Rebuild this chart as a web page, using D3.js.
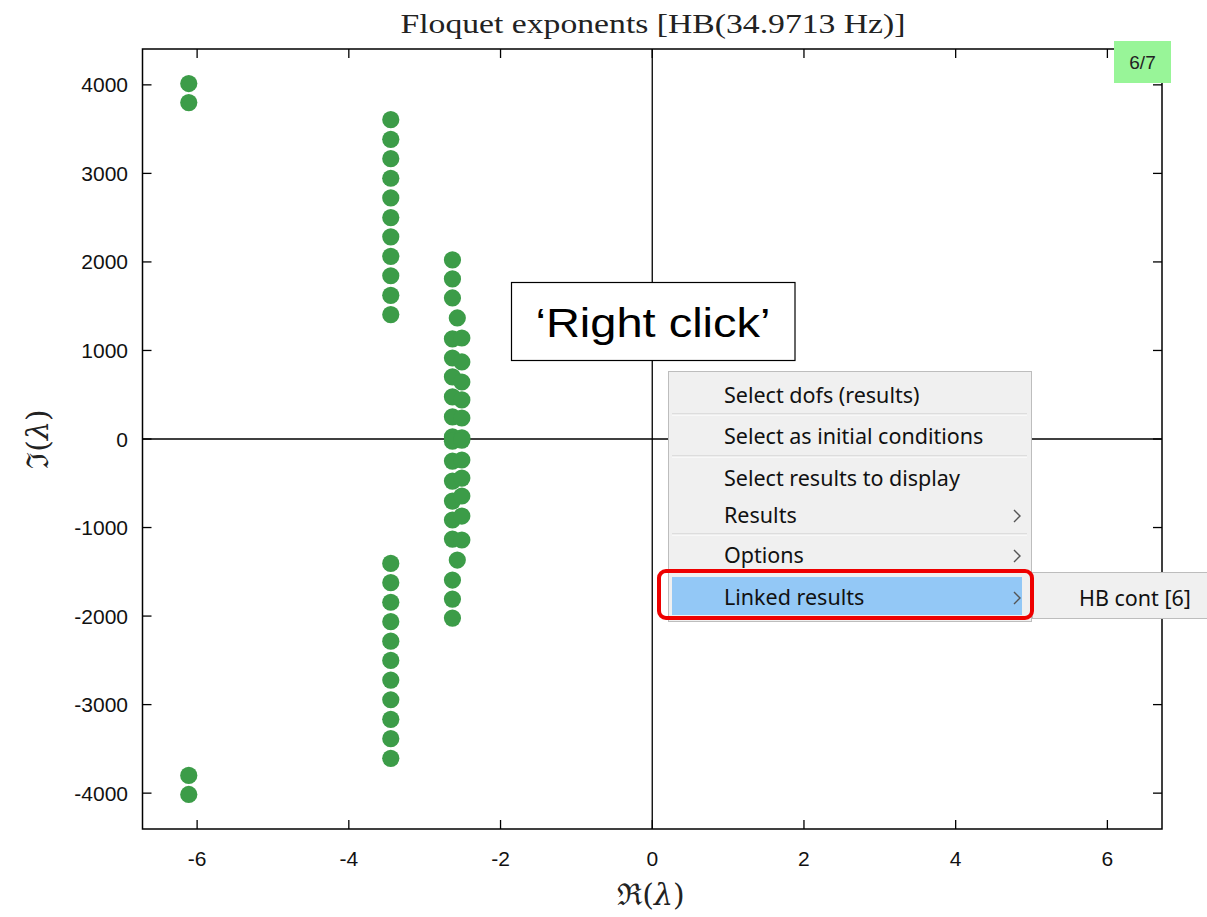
<!DOCTYPE html>
<html>
<head>
<meta charset="utf-8">
<script src="https://cdn.jsdelivr.net/npm/d3@7"></script>
<style>
  html, body { margin: 0; padding: 0; background: #ffffff; }
  svg { display: block; }
</style>
</head>
<body>
<svg id="chart" width="1207" height="917"></svg>
<script>
// Floquet exponents, grouped by real part; each group lists its imaginary parts.
const outerRe = -6.11;
const outerIm = [4015, 3800, -3800, -4015];

const midRe = -3.447;
const midIm = [3607, 3385, 3166, 2945, 2723, 2501, 2283, 2063, 1844, 1623, 1405,
               -1405, -1623, -1844, -2063, -2283, -2501, -2723, -2945, -3166, -3385, -3607];

const innerLeftRe = -2.634;
const innerLeftIm = [2023, 1808, 1593, 1130, 915, 701, 475, 249, 25,
                     -25, -249, -475, -701, -915, -1130, -1593, -1808, -2023];

const innerMidRe = -2.57;
const innerMidIm = [1367, -1367];

const innerRightRe = -2.51;
const innerRightIm = [1141, 870, 644, 441, 237, 12,
                      -12, -237, -441, -644, -870, -1141];

const xTicks = [-6, -4, -2, 0, 2, 4, 6];
const yTicks = [-4000, -3000, -2000, -1000, 0, 1000, 2000, 3000, 4000];

const titleText = "Floquet exponents [HB(34.9713 Hz)]";
const badgeText = "6/7";
const calloutText = "\u2018Right click\u2019";
const menuItems = ["Select dofs (results)", "Select as initial conditions",
                   "Select results to display", "Results", "Options", "Linked results"];
const menuArrows = [false, false, false, true, true, true];
const menuSeparators = [0, 1, 3];     // separator drawn after these items
const submenuItems = ["HB cont [6]"];

const points = [
  ...outerIm.map(v => [outerRe, v]),
  ...midIm.map(v => [midRe, v]),
  ...innerLeftIm.map(v => [innerLeftRe, v]),
  ...innerMidIm.map(v => [innerMidRe, v]),
  ...innerRightIm.map(v => [innerRightRe, v])
];

const svg = d3.select("#chart");
const L = 142.5, R = 1162, T = 49, B = 829;

const x = d3.scaleLinear().domain([-6.72, 6.72]).range([L, R]);
const y = d3.scaleLinear().domain([-4405, 4405]).range([B, T]);

const tickLen = 9;
const axisFont = "'Liberation Sans', Arial, sans-serif";

// ticks on all four sides, pointing inward
const ax = svg.append("g").attr("stroke", "#000").attr("stroke-width", 1.3);
xTicks.forEach(t => {
  ax.append("line").attr("x1", x(t)).attr("x2", x(t)).attr("y1", B).attr("y2", B - tickLen);
  ax.append("line").attr("x1", x(t)).attr("x2", x(t)).attr("y1", T).attr("y2", T + tickLen);
});
yTicks.forEach(t => {
  ax.append("line").attr("x1", L).attr("x2", L + tickLen).attr("y1", y(t)).attr("y2", y(t));
  ax.append("line").attr("x1", R).attr("x2", R - tickLen).attr("y1", y(t)).attr("y2", y(t));
});

// zero lines
ax.append("line").attr("x1", x(0)).attr("x2", x(0)).attr("y1", T).attr("y2", B);
ax.append("line").attr("x1", L).attr("x2", R).attr("y1", y(0)).attr("y2", y(0));

// frame
svg.append("rect").attr("x", L).attr("y", T).attr("width", R - L).attr("height", B - T)
  .attr("fill", "none").attr("stroke", "#000").attr("stroke-width", 1.5);

// tick labels
svg.append("g").selectAll("text").data(xTicks).join("text")
  .attr("x", d => x(d)).attr("y", 866).attr("text-anchor", "middle")
  .attr("font-family", axisFont).attr("font-size", 21).attr("fill", "#111")
  .text(d => d);
svg.append("g").selectAll("text").data(yTicks).join("text")
  .attr("x", 128).attr("y", d => y(d) + 7.5).attr("text-anchor", "end")
  .attr("font-family", axisFont).attr("font-size", 21).attr("fill", "#111")
  .text(d => d);

// points
svg.append("g").selectAll("circle").data(points).join("circle")
  .attr("cx", d => x(d[0])).attr("cy", d => y(d[1])).attr("r", 8.6)
  .attr("fill", "#3c9c48");

// title and axis labels
const serif = "'DejaVu Serif', 'Liberation Serif', serif";
svg.append("text").attr("x", 653).attr("y", 33).attr("text-anchor", "middle")
  .attr("font-family", "'Liberation Serif', serif").attr("font-size", 27).attr("fill", "#222")
  .attr("textLength", 505).attr("lengthAdjust", "spacingAndGlyphs")
  .text(titleText);

const xl = svg.append("text").attr("x", 651).attr("y", 905).attr("text-anchor", "middle")
  .attr("font-family", serif).attr("font-size", 30).attr("fill", "#222");
xl.append("tspan").text("\u211C(");
xl.append("tspan").attr("font-style", "italic").text("\u03BB");
xl.append("tspan").text(")");

const yl = svg.append("text").attr("transform", "translate(48,439) rotate(-90)")
  .attr("text-anchor", "middle")
  .attr("font-family", serif).attr("font-size", 30).attr("fill", "#222");
yl.append("tspan").text("\u2111(");
yl.append("tspan").attr("font-style", "italic").text("\u03BB");
yl.append("tspan").text(")");

// page badge
svg.append("rect").attr("x", 1114).attr("y", 41).attr("width", 57).attr("height", 42)
  .attr("fill", "#98f598");
svg.append("text").attr("x", 1142.5).attr("y", 69).attr("text-anchor", "middle")
  .attr("font-family", axisFont).attr("font-size", 19).attr("fill", "#222")
  .text(badgeText);

// callout box
svg.append("rect").attr("x", 511.5).attr("y", 282.5).attr("width", 283.5).attr("height", 78)
  .attr("fill", "#fff").attr("stroke", "#000").attr("stroke-width", 1.2);
svg.append("text").attr("x", 653).attr("y", 337).attr("text-anchor", "middle")
  .attr("font-family", axisFont).attr("font-size", 41).attr("fill", "#000")
  .attr("textLength", 235).attr("lengthAdjust", "spacingAndGlyphs")
  .text(calloutText);

// context menu
const menuFont = "'Noto Sans', 'Open Sans', sans-serif";
const mX = 668.5, mY = 371.5, mW = 363, mH = 250;
const menu = svg.append("g");
menu.append("rect").attr("x", mX).attr("y", mY).attr("width", mW).attr("height", mH)
  .attr("fill", "#f0f0f0").attr("stroke", "#bdbdbd").attr("stroke-width", 1);

const rowTop = [374, 415, 457, 496, 535, 577];
const baselines = [403, 444, 486, 523, 563, 605];

// highlighted row
menu.append("rect").attr("x", 672).attr("y", 577).attr("width", 350).attr("height", 38)
  .attr("fill", "#93c8f6");

menuSeparators.forEach(i => {
  const sy = rowTop[i + 1] - 1;
  menu.append("line").attr("x1", 672).attr("x2", 1027).attr("y1", sy).attr("y2", sy)
    .attr("stroke", "#c9c9c9").attr("stroke-width", 1.2);
  menu.append("line").attr("x1", 672).attr("x2", 1027).attr("y1", sy + 1).attr("y2", sy + 1)
    .attr("stroke", "#ffffff").attr("stroke-width", 1);
});

menu.selectAll("text.item").data(menuItems).join("text").attr("class", "item")
  .attr("x", 724).attr("y", (d, i) => baselines[i])
  .attr("font-family", menuFont).attr("font-size", 21.5).attr("fill", "#111")
  .text(d => d);

menuItems.forEach((d, i) => {
  if (!menuArrows[i]) return;
  const cy = baselines[i] - 7;
  menu.append("path").attr("d", `M1014,${cy - 6} L1020,${cy} L1014,${cy + 6}`)
    .attr("fill", "none").attr("stroke", "#555").attr("stroke-width", 1.4);
});

// submenu
const sub = svg.append("g");
sub.append("rect").attr("x", 1032.5).attr("y", 572.5).attr("width", 180).attr("height", 46)
  .attr("fill", "#f0f0f0").attr("stroke", "#bdbdbd").attr("stroke-width", 1);
sub.selectAll("text").data(submenuItems).join("text")
  .attr("x", 1079).attr("y", 606).attr("font-family", menuFont).attr("font-size", 21.5)
  .attr("fill", "#111").text(d => d);

// red highlight around the selected entry
svg.append("rect").attr("x", 659).attr("y", 571).attr("width", 373).attr("height", 47)
  .attr("rx", 7).attr("ry", 7)
  .attr("fill", "none").attr("stroke", "#ee0000").attr("stroke-width", 4);
</script>
</body>
</html>
